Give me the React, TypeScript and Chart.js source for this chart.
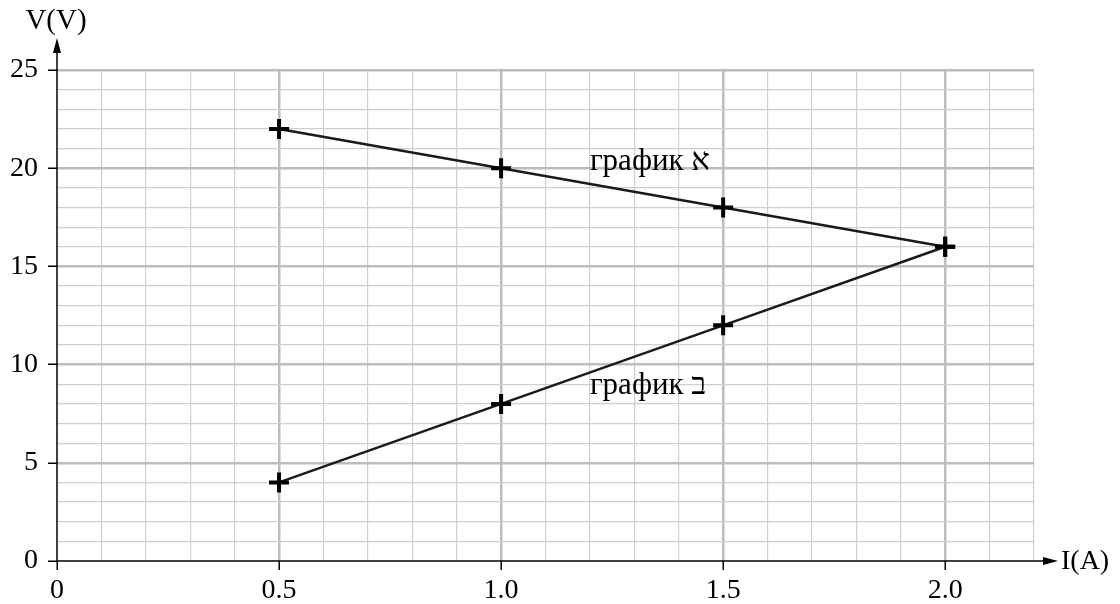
import React, { useEffect, useRef } from "react";
import { Chart, registerables } from "chart.js";

Chart.register(...registerables);

const currentA = [0.5, 1.0, 1.5, 2.0];
const voltageA = [22, 20, 18, 16];
const currentB = [0.5, 1.0, 1.5, 2.0];
const voltageB = [4, 8, 12, 16];
const labelA = "график א";
const labelB = "график ב";
const xTitle = "I(A)";
const yTitle = "V(V)";

const FONT = "'Liberation Serif', 'Times New Roman', serif";

const isMajorX = (v: number) => Math.abs(v * 2 - Math.round(v * 2)) < 1e-6;
const isMajorY = (v: number) => Math.abs(v / 5 - Math.round(v / 5)) < 1e-6;

const overlayPlugin = {
  id: "overlay",
  afterDraw(chart: any) {
    const { ctx, scales } = chart;
    const x = scales.x;
    const y = scales.y;
    const x0 = x.getPixelForValue(0);
    const y0 = y.getPixelForValue(0);
    ctx.save();
    ctx.strokeStyle = "#000";
    ctx.fillStyle = "#000";
    ctx.lineWidth = 1.5;
    // y axis
    ctx.beginPath();
    ctx.moveTo(x0, y0 + 1);
    ctx.lineTo(x0, 50);
    ctx.stroke();
    ctx.beginPath();
    ctx.moveTo(x0, 38);
    ctx.lineTo(x0 - 4, 53);
    ctx.lineTo(x0 + 4, 53);
    ctx.closePath();
    ctx.fill();
    // x axis
    ctx.beginPath();
    ctx.moveTo(x0, y0);
    ctx.lineTo(1046, y0);
    ctx.stroke();
    ctx.beginPath();
    ctx.moveTo(1058, y0);
    ctx.lineTo(1043, y0 - 4);
    ctx.lineTo(1043, y0 + 4);
    ctx.closePath();
    ctx.fill();
    // titles
    ctx.font = `28px ${FONT}`;
    ctx.textBaseline = "middle";
    ctx.textAlign = "left";
    ctx.fillText(xTitle, 1061, y0 + 1);
    ctx.font = `29px ${FONT}`;
    ctx.textAlign = "center";
    ctx.fillText(yTitle, 56, 21);
    // series labels
    ctx.font = `31px ${FONT}`;
    ctx.textAlign = "left";
    ctx.textBaseline = "alphabetic";
    ctx.direction = "ltr";
    ctx.fillText(labelA, x.getPixelForValue(1.2), y.getPixelForValue(19.9));
    ctx.fillText(labelB, x.getPixelForValue(1.2), y.getPixelForValue(8.5));
    ctx.restore();
  },
};

export default function App() {
  const ref = useRef<HTMLCanvasElement>(null);
  useEffect(() => {
    document.body.style.margin = "0";
    const canvas = ref.current!;
    const pointOpts = {
      pointStyle: "cross",
      pointRadius: 10,
      pointBorderWidth: 4,
      pointBorderColor: "#000",
      pointBackgroundColor: "#000",
      borderColor: "#1a1a1a",
      borderWidth: 2.5,
      showLine: true,
      tension: 0,
    };
    const chart = new Chart(canvas, {
      type: "scatter",
      data: {
        datasets: [
          { label: "A", data: currentA.map((c, i) => ({ x: c, y: voltageA[i] })), ...pointOpts },
          { label: "B", data: currentB.map((c, i) => ({ x: c, y: voltageB[i] })), ...pointOpts },
        ],
      },
      options: {
        animation: false,
        responsive: false,
        layout: { padding: { left: 0, right: 86, top: 70, bottom: 0 } },
        plugins: { legend: { display: false }, tooltip: { enabled: false } },
        scales: {
          x: {
            type: "linear",
            min: 0,
            max: 2.2,
            border: { display: false },
            afterFit: (s: any) => {
              s.height = 43;
            },
            ticks: {
              stepSize: 0.1,
              autoSkip: false,
              maxRotation: 0,
              padding: 4,
              color: "#000",
              font: { family: FONT, size: 28 },
              callback: (v: any) => {
                const n = Number(v);
                if (!isMajorX(n)) return "";
                return n === 0 ? "0" : n.toFixed(1);
              },
            },
            grid: {
              drawTicks: true,
              tickLength: 9,
              color: (c: any) => {
                const v = c.tick ? c.tick.value : 0;
                if (Math.abs(v) < 1e-6) return "rgba(0,0,0,0)";
                return isMajorX(v) ? "#bdbdbd" : "#cfcfcf";
              },
              lineWidth: (c: any) => {
                const v = c.tick ? c.tick.value : 0;
                return isMajorX(v) ? 2.5 : 1.2;
              },
              tickColor: (c: any) => {
                const v = c.tick ? c.tick.value : 0;
                return isMajorX(v) ? "#000" : "rgba(0,0,0,0)";
              },
              tickWidth: 1.5,
            },
          },
          y: {
            type: "linear",
            min: 0,
            max: 25,
            border: { display: false },
            afterFit: (s: any) => {
              s.width = 57;
            },
            ticks: {
              stepSize: 1,
              autoSkip: false,
              padding: 10,
              color: "#000",
              font: { family: FONT, size: 28 },
              callback: (v: any) => {
                const n = Number(v);
                return isMajorY(n) ? String(n) : "";
              },
            },
            grid: {
              drawTicks: true,
              tickLength: 9,
              color: (c: any) => {
                const v = c.tick ? c.tick.value : 0;
                if (Math.abs(v) < 1e-6) return "rgba(0,0,0,0)";
                return isMajorY(v) ? "#bdbdbd" : "#cfcfcf";
              },
              lineWidth: (c: any) => {
                const v = c.tick ? c.tick.value : 0;
                return isMajorY(v) ? 2.5 : 1.2;
              },
              tickColor: (c: any) => {
                const v = c.tick ? c.tick.value : 0;
                return isMajorY(v) ? "#000" : "rgba(0,0,0,0)";
              },
              tickWidth: 1.5,
            },
          },
        },
      },
      plugins: [overlayPlugin],
    } as any);
    return () => chart.destroy();
  }, []);
  return <canvas ref={ref} width={1120} height={604} style={{ display: "block" }} />;
}
